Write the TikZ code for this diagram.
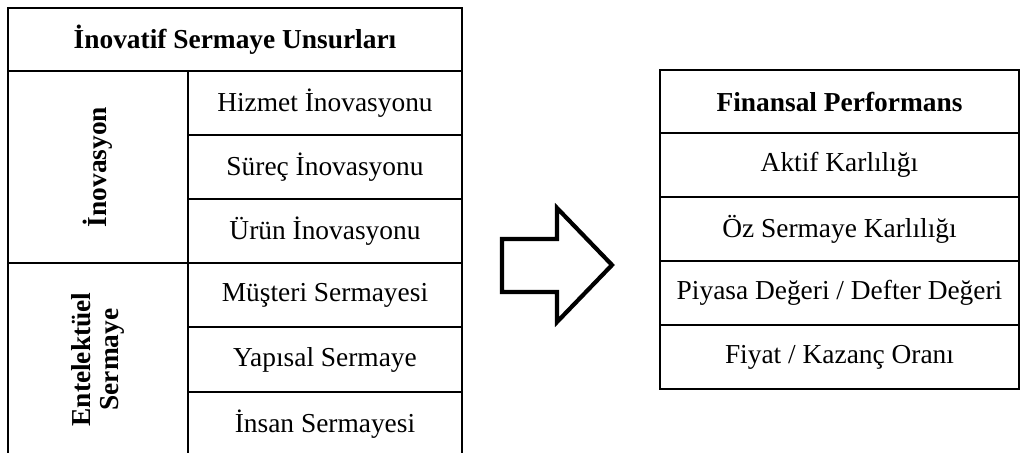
\documentclass[tikz,border=0pt]{standalone}
\usepackage{fontspec}
\setmainfont{Liberation Serif}
\begin{document}
\begin{tikzpicture}[x=0.5pt,y=-0.5pt,line width=1.3pt,
  every node/.style={font=\fontsize{13.7}{16.5}\selectfont},
  cell/.style={draw,rectangle,inner sep=0pt,anchor=center},
  head/.style={cell,font=\fontsize{13.7}{16.5}\selectfont\bfseries},
  side/.style={cell},
  lrow/.style={cell,minimum width=137pt,minimum height=32pt},
  rrow/.style={cell,minimum width=179.5pt,minimum height=32pt}]
\useasboundingbox (0,0) rectangle (1022,453);
\clip (0,0) rectangle (1022,453);

% left table: innovative capital elements
\node[head,minimum width=227pt,minimum height=31.5pt] (lh) at (235,39.5) {İnovatif Sermaye Unsurları};
\node[side,minimum width=90pt,minimum height=96pt] (inov) at (98,167) {};
\node[rotate=90,font=\fontsize{13.7}{15}\selectfont\bfseries] (inovt) at (inov.center) {İnovasyon};
\node[side,minimum width=90pt,minimum height=96.5pt] (ent) at (98,359.5) {};
\node[rotate=90,align=center,font=\fontsize{13.7}{14}\selectfont\bfseries] (entt) at (ent.center) {Entelektüel\\Sermaye};
\node[lrow] (l1) at (325,103) {Hizmet İnovasyonu};
\node[lrow] (l2) at (325,167) {Süreç İnovasyonu};
\node[lrow] (l3) at (325,231) {Ürün İnovasyonu};
\node[lrow] (l4) at (325,295) {Müşteri Sermayesi};
\node[lrow,minimum height=32.5pt] (l5) at (325,359.5) {Yapısal Sermaye};
\node[lrow] (l6) at (325,424) {İnsan Sermayesi};

% block arrow
\draw[line width=2.1pt,line join=miter]
  (502,239) -- (557,239) -- (557,208) -- (612,265) -- (557,322) -- (557,292) -- (502,292) -- cycle;

% right table: financial performance
\node[head,minimum width=179.5pt,minimum height=31.5pt] (rh) at (839.5,101.5) {Finansal Performans};
\node[rrow] (r1) at (839.5,165) {Aktif Karlılığı};
\node[rrow] (r2) at (839.5,229) {Öz Sermaye Karlılığı};
\node[rrow] (r3) at (839.5,293) {Piyasa Değeri / Defter Değeri};
\node[rrow] (r4) at (839.5,357) {Fiyat / Kazanç Oranı};
\end{tikzpicture}
\end{document}
